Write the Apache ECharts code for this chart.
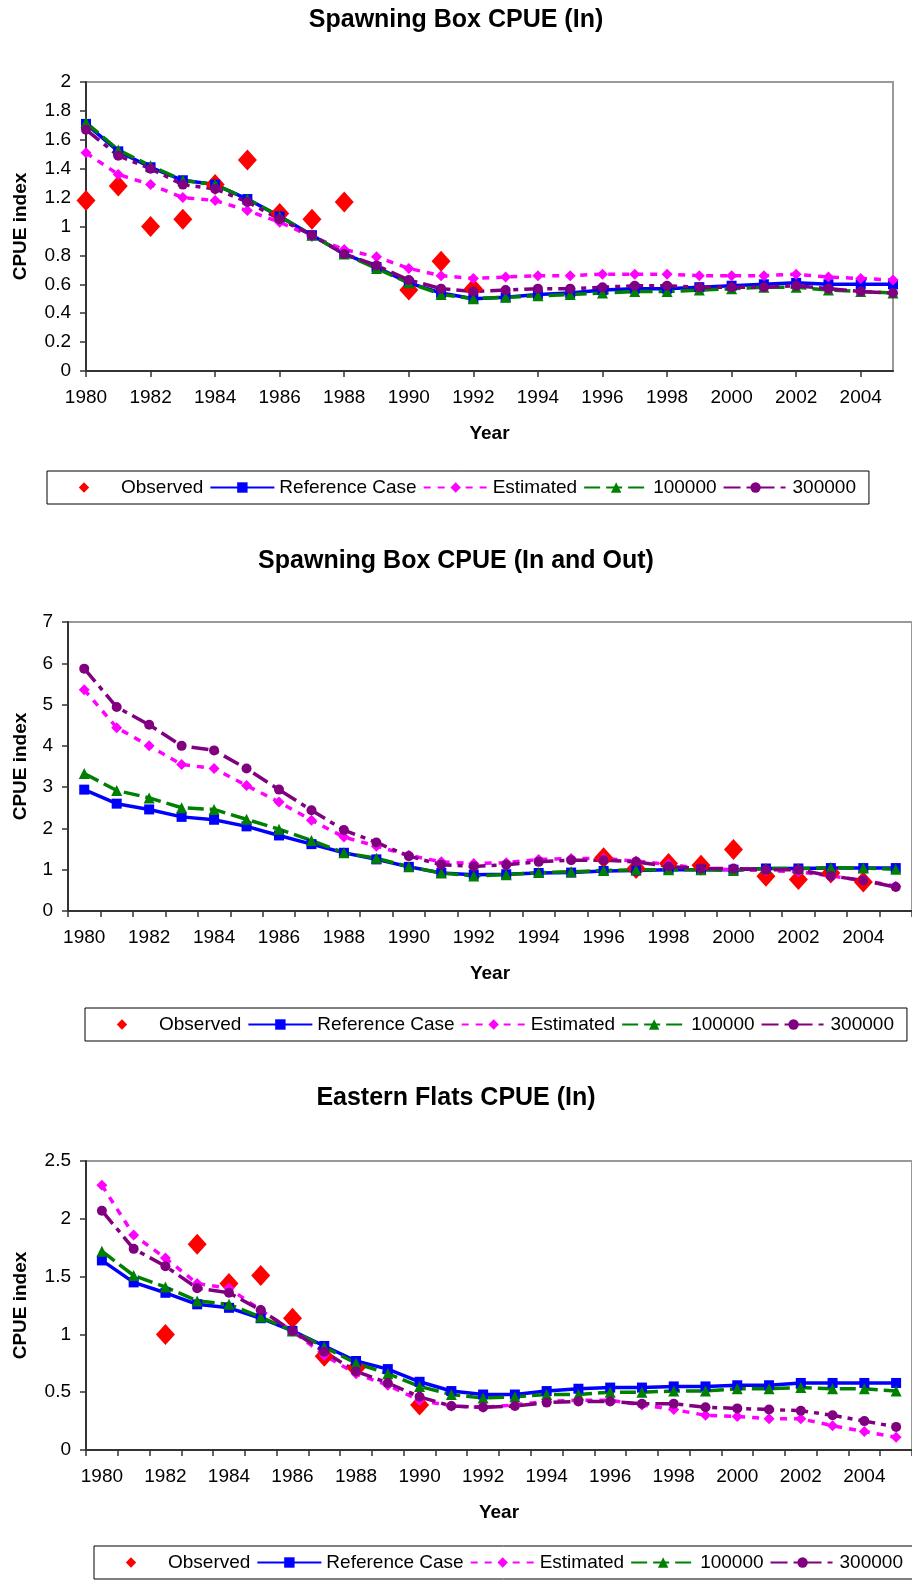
<!DOCTYPE html>
<html>
<head>
<meta charset="utf-8">
<script src="https://cdn.jsdelivr.net/npm/echarts@6/dist/echarts.min.js"></script>
<style>
html,body{margin:0;padding:0;background:#fff;}
#c{width:912px;height:1584px;}
</style>
</head>
<body>
<div id="c"></div>
<script>
// ---- data ----
var years = ['1980','1981','1982','1983','1984','1985','1986','1987','1988','1989','1990','1991','1992','1993','1994','1995','1996','1997','1998','1999','2000','2001','2002','2003','2004','2005'];
var seriesNames = ['Observed','Reference Case','Estimated','100000','300000'];
var titles = ['Spawning Box CPUE (In)','Spawning Box CPUE (In and Out)','Eastern Flats CPUE (In)'];

// Chart 1: Spawning Box CPUE (In)
var obs1 = [1.18,1.28,1.00,1.05,1.29,1.46,1.09,1.05,1.17,null,0.56,0.76,0.57,null,null,null,null,null,null,null,null,null,null,null,null,null];
var ref1 = [1.71,1.52,1.41,1.32,1.29,1.19,1.07,0.94,0.81,0.72,0.61,0.54,0.50,0.51,0.53,0.54,0.56,0.57,0.57,0.58,0.59,0.60,0.61,0.60,0.60,0.60];
var est1 = [1.51,1.36,1.29,1.20,1.18,1.11,1.03,0.93,0.84,0.79,0.71,0.66,0.64,0.65,0.66,0.66,0.67,0.67,0.67,0.66,0.66,0.66,0.67,0.65,0.64,0.63];
var k100_1 = [1.72,1.53,1.42,1.32,1.29,1.19,1.07,0.94,0.81,0.71,0.61,0.53,0.50,0.51,0.52,0.53,0.54,0.55,0.55,0.56,0.57,0.58,0.58,0.56,0.55,0.54];
var k300_1 = [1.67,1.49,1.40,1.29,1.26,1.17,1.05,0.94,0.81,0.73,0.63,0.57,0.55,0.56,0.57,0.57,0.58,0.59,0.59,0.58,0.58,0.58,0.59,0.57,0.55,0.54];

// Chart 2: Spawning Box CPUE (In and Out)
var obs2 = [null,null,null,null,null,null,null,null,null,null,null,null,null,null,null,null,1.29,1.03,1.15,1.11,1.49,0.84,0.76,0.92,0.70,null];
var ref2 = [2.94,2.60,2.46,2.28,2.21,2.05,1.83,1.62,1.41,1.25,1.07,0.92,0.88,0.89,0.92,0.93,0.97,0.98,1.00,1.00,1.00,1.03,1.03,1.04,1.04,1.04];
var est2 = [5.36,4.44,4.00,3.55,3.45,3.04,2.64,2.20,1.79,1.57,1.35,1.19,1.15,1.17,1.25,1.27,1.27,1.21,1.13,1.03,1.00,0.98,0.95,0.85,0.74,0.60];
var k100_2 = [3.33,2.92,2.74,2.50,2.46,2.22,1.98,1.71,1.41,1.28,1.07,0.92,0.85,0.88,0.93,0.95,0.98,1.00,1.00,1.00,0.98,1.03,1.03,1.05,1.04,1.01];
var k300_2 = [5.87,4.94,4.51,4.00,3.89,3.45,2.94,2.44,1.96,1.66,1.33,1.12,1.08,1.12,1.19,1.23,1.23,1.19,1.08,1.03,1.03,1.00,1.00,0.85,0.74,0.58];

// Chart 3: Eastern Flats CPUE (In)
var obs3 = [null,null,1.00,1.78,1.44,1.51,1.14,0.81,0.71,null,0.39,null,null,null,null,null,null,null,null,null,null,null,null,null,null,null];
var ref3 = [1.64,1.45,1.36,1.26,1.23,1.14,1.03,0.90,0.77,0.70,0.59,0.51,0.48,0.48,0.51,0.53,0.54,0.54,0.55,0.55,0.56,0.56,0.58,0.58,0.58,0.58];
var est3 = [2.29,1.86,1.66,1.44,1.40,1.21,1.03,0.82,0.66,0.56,0.43,0.38,0.37,0.39,0.42,0.43,0.43,0.39,0.35,0.30,0.29,0.27,0.27,0.21,0.16,0.11];
var k100_3 = [1.72,1.51,1.41,1.29,1.26,1.15,1.03,0.89,0.75,0.66,0.55,0.48,0.45,0.46,0.48,0.48,0.50,0.50,0.51,0.51,0.53,0.53,0.54,0.53,0.53,0.51];
var k300_3 = [2.07,1.74,1.59,1.40,1.36,1.21,1.03,0.85,0.68,0.58,0.46,0.38,0.37,0.38,0.41,0.42,0.42,0.40,0.40,0.37,0.36,0.35,0.34,0.30,0.25,0.20];

// y-axis scales
var yMax = [2, 7, 2.5];
var yInterval = [0.2, 1, 0.5];

// ---- styling / layout ----
var FONT = "'Liberation Sans', Arial, sans-serif";
var grids = [
  {left: 86, top: 82, width: 807, height: 289},
  {left: 68, top: 622, width: 852, height: 289},
  {left: 86, top: 1161, width: 836, height: 289}
];
var boundary = [false, true, true];
var yNameGap = [56, 38, 56];
var titleTops = [3, 544, 1081];
var legendPos = [{left: 47, top: 471}, {left: 85, top: 1008}, {left: 94, top: 1546}];

var dataSets = [
  [obs1, ref1, est1, k100_1, k300_1],
  [obs2, ref2, est2, k100_2, k300_2],
  [obs3, ref3, est3, k100_3, k300_3]
];

var styles = [
  {color: '#FF0000', symbol: 'diamond', size: [19, 21], line: {width: 0, type: 'solid', opacity: 0}},
  {color: '#0000FF', symbol: 'rect', size: 10, line: {width: 3.5, type: 'solid'}},
  {color: '#FF00FF', symbol: 'diamond', size: 11, line: {width: 3.5, type: [7, 7]}},
  {color: '#008000', symbol: 'triangle', size: 11, line: {width: 3.5, type: [16, 6]}},
  {color: '#800080', symbol: 'circle', size: 10, line: {width: 3.5, type: [17, 6, 5, 6]}}
];

var option = {
  backgroundColor: '#ffffff',
  animation: false,
  textStyle: {fontFamily: FONT, color: '#000'},
  title: [], grid: [], xAxis: [], yAxis: [], legend: [], series: []
};

for (var g = 0; g < 3; g++) {
  option.title.push({
    text: titles[g], left: 'center', top: titleTops[g],
    textStyle: {fontFamily: FONT, fontSize: 25, fontWeight: 'bold', color: '#000'}
  });
  option.grid.push(Object.assign({show: true, borderColor: '#999', borderWidth: 2, containLabel: false}, grids[g]));
  option.xAxis.push({
    type: 'category', gridIndex: g, data: years, boundaryGap: boundary[g],
    name: 'Year', nameLocation: 'middle', nameGap: 53,
    nameTextStyle: {fontFamily: FONT, fontSize: 19, fontWeight: 'bold', color: '#000'},
    axisLine: {show: true, lineStyle: {color: '#333', width: 2}},
    axisTick: {show: true, length: 6, interval: boundary[g] ? 0 : 1, lineStyle: {color: '#333', width: 1.5}},
    axisLabel: {interval: 1, margin: 17, fontSize: 19, color: '#000', fontFamily: FONT},
    splitLine: {show: false}
  });
  option.yAxis.push({
    type: 'value', gridIndex: g, min: 0, max: yMax[g], interval: yInterval[g],
    name: 'CPUE index', nameLocation: 'middle', nameRotate: 90, nameGap: yNameGap[g],
    nameTextStyle: {fontFamily: FONT, fontSize: 19, fontWeight: 'bold', color: '#000'},
    axisLine: {show: true, lineStyle: {color: '#333', width: 2}},
    axisTick: {show: true, length: 6, lineStyle: {color: '#333', width: 1.5}},
    axisLabel: {margin: 15, fontSize: 19, color: '#000', fontFamily: FONT},
    splitLine: {show: false}
  });
  option.legend.push({
    data: seriesNames, orient: 'horizontal',
    left: legendPos[g].left, top: legendPos[g].top, width: 1000,
    itemWidth: 64, itemHeight: 13, itemGap: 6,
    padding: [7, 13, 7, 5],
    borderColor: '#000', borderWidth: 1, backgroundColor: '#fff',
    textStyle: {fontFamily: FONT, fontSize: 19, color: '#000'},
    selectedMode: false
  });
  for (var s = 0; s < 5; s++) {
    var st = styles[s];
    option.series.push({
      name: seriesNames[s], type: 'line', xAxisIndex: g, yAxisIndex: g,
      data: dataSets[g][s],
      symbol: st.symbol, symbolSize: st.size, showAllSymbol: true,
      connectNulls: false,
      itemStyle: {color: st.color},
      lineStyle: Object.assign({color: st.color}, st.line),
      emphasis: {disabled: true}
    });
  }
}

var chart = echarts.init(document.getElementById('c'), null, {renderer: 'canvas'});
chart.setOption(option);
</script>
</body>
</html>
